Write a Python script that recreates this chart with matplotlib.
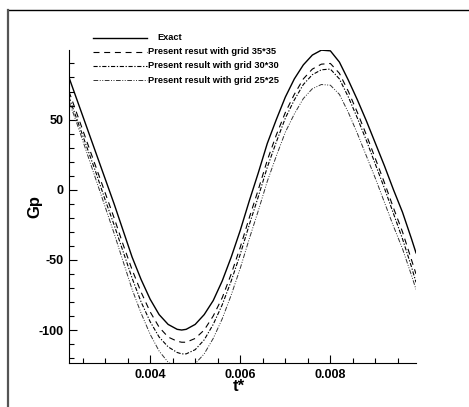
import matplotlib
import matplotlib.pyplot as plt
from matplotlib.lines import Line2D
from matplotlib.ticker import MultipleLocator

matplotlib.use('agg')

plt.rcParams['font.family'] = ['Liberation Sans', 'DejaVu Sans']
plt.rcParams['lines.scale_dashes'] = False
plt.rcParams['axes.unicode_minus'] = False

# data
t = [0.0022, 0.0024, 0.0026, 0.0028, 0.0030, 0.0032, 0.0034, 0.0036, 0.0038,
     0.0040, 0.0042, 0.0044, 0.0046, 0.0047, 0.0048, 0.0050, 0.0052, 0.0054,
     0.0056, 0.0058, 0.0060, 0.0062, 0.0064, 0.0066, 0.0068, 0.0070, 0.0072,
     0.0074, 0.0076, 0.0078, 0.0080, 0.0082, 0.0084, 0.0086, 0.0088, 0.0090,
     0.0092, 0.0094, 0.0096, 0.0098, 0.0099]

exact = [80, 62, 44, 26, 8, -10, -29, -48, -64, -78, -89, -96, -99.5, -100,
         -99.5, -96, -89, -79, -65, -48, -29, -8, 12, 33, 50, 66, 79, 89, 96,
         99.5, 99, 91, 78, 64, 49, 33, 17, 0, -16, -35, -45]
grid35 = [70, 52, 34, 16, -2, -20, -39, -57, -73, -87, -98, -105, -108, -108.7,
          -108.7, -106, -100, -90, -77, -60, -41, -20, 0, 21, 39, 55, 68, 79,
          86, 89.5, 90, 83, 70, 55, 39, 22, 5, -13, -30, -50, -60]
grid30 = [66, 48, 30, 12, -7, -25, -44, -63, -80, -94, -105, -112, -116, -117,
          -117, -114, -107, -96, -82, -65, -46, -25, -5, 16, 34, 51, 64, 75,
          82, 85.5, 86, 79, 66, 51, 35, 18, 1, -17, -35, -55, -66]
grid25 = [63, 45, 26, 7, -12, -31, -51, -71, -88, -103, -115, -123, -127, -128,
          -127.5, -124, -117, -106, -92, -75, -56, -35, -15, 6, 24, 41, 54, 65,
          72, 75, 74.5, 68, 55, 40, 24, 8, -9, -26, -42, -61, -71]

labels = ['Exact',
          'Present resut with grid 35*35',
          'Present result with grid 30*30',
          'Present result with grid 25*25']

W, H = 469, 407
fig = plt.figure(figsize=(W / 100, H / 100), dpi=100)
ax = fig.add_axes([69 / W, 1 - 363 / H, (416 - 69) / W, (363 - 50) / H])

styles = [
    dict(color='black', lw=1.0, ls='-'),
    dict(color='black', lw=0.8, ls=(0, (4.3, 3.4))),
    dict(color='black', lw=0.8, ls=(0, (3.0, 1.2, 0.9, 1.2))),
    dict(color='#333333', lw=0.7, ls=(0, (3.4, 1.1, 0.7, 1.1, 0.7, 1.1))),
]
series = [exact, grid35, grid30, grid25]
for ys, st in zip(series, styles):
    ax.plot(t, ys, **st)

ax.set_xlim(0.0022, 0.0099)
ax.set_ylim(-123.5, 99.6)
ax.spines['top'].set_visible(False)
ax.spines['right'].set_visible(False)
ax.xaxis.set_major_locator(MultipleLocator(0.002))
ax.xaxis.set_minor_locator(MultipleLocator(0.0005))
ax.yaxis.set_major_locator(MultipleLocator(50))
ax.yaxis.set_minor_locator(MultipleLocator(10))
ax.xaxis.set_major_formatter(plt.FuncFormatter(lambda v, p: '%.3f' % v))
ax.tick_params(which='major', direction='in', length=6, width=0.8, labelsize=9, pad=4)
ax.tick_params(which='minor', direction='in', length=3.5, width=0.8)
for lab in ax.get_xticklabels() + ax.get_yticklabels():
    lab.set_fontweight('bold')

ax.set_xlabel('t*', fontsize=12, fontweight='bold')
ax.set_ylabel('Gp', fontsize=12, fontweight='bold')
ax.xaxis.set_label_coords(0.49, -0.052)
ax.yaxis.set_label_coords(-0.078, 0.5)

# legend drawn by hand
rows = [37.7, 51.7, 66, 80.3]
for i, (lab, st) in enumerate(zip(labels, styles)):
    y = 1 - rows[i] / H
    fig.add_artist(Line2D([93 / W, 147 / W], [y, y], transform=fig.transFigure, **st))
    x0 = 157 if i == 0 else 148
    fig.text(x0 / W, y, lab, fontsize=6.7, fontweight='bold', va='center',
             family=['Liberation Sans Narrow', 'Liberation Sans'])

# outer frame lines
fig.add_artist(Line2D([8 / W, 1], [1 - 10 / H, 1 - 10 / H], transform=fig.transFigure,
                      color='black', lw=1.0))
fig.add_artist(Line2D([8 / W, 8 / W], [0, 1 - 10 / H], transform=fig.transFigure,
                      color='#555555', lw=1.6))

fig.savefig('out.png', dpi=100, facecolor='white')
